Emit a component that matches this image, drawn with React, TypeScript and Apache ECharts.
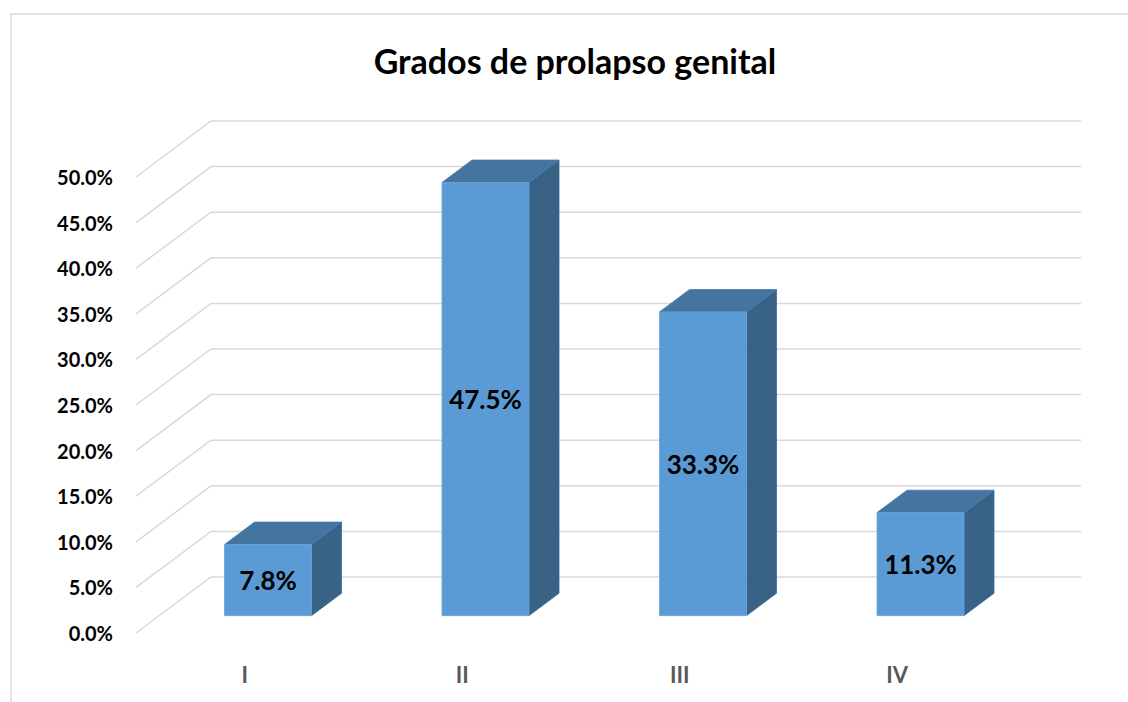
import React, { useEffect, useRef } from "react";
import * as echarts from "echarts";

const titleText = "Grados de prolapso genital";
const categories = ["I", "II", "III", "IV"];
const values = [7.8, 47.5, 33.3, 11.3];
const yTicks = [0, 5, 10, 15, 20, 25, 30, 35, 40, 45, 50];

const DX = 75;
const DY = -56;
const F0 = 0.31;
const F1 = 0.71;
const BAR_W = 0.4;
const FONT = "Lato, Carlito, 'Open Sans', sans-serif";

export default function App() {
  const ref = useRef<HTMLDivElement>(null);
  useEffect(() => {
    const chart = echarts.init(ref.current as HTMLDivElement, null, { renderer: "svg" });
    chart.setOption({
      animation: false,
      backgroundColor: "#ffffff",
      graphic: [
        {
          type: "rect",
          z: 0,
          silent: true,
          shape: { x: 11, y: 14, width: 1400, height: 1000 },
          style: { fill: "none", stroke: "#d9d9d9", lineWidth: 1.5 },
        },
        {
          type: "text",
          x: 575,
          y: 60,
          style: {
            text: titleText,
            fontFamily: FONT,
            fontSize: 34,
            fontWeight: "bold",
            fill: "#000000",
            textAlign: "center",
            textVerticalAlign: "middle",
          },
        },
      ],
      grid: { left: 136, right: 122, top: 177, bottom: 69 },
      xAxis: {
        type: "category",
        data: categories,
        axisLine: { show: false },
        axisTick: { show: false },
        axisLabel: {
          margin: 30,
          fontFamily: FONT,
          fontSize: 22,
          fontWeight: "bold",
          color: "#595959",
        },
      },
      yAxis: {
        type: "value",
        min: 0,
        max: 50,
        interval: 5,
        axisLine: { show: false },
        axisTick: { show: false },
        splitLine: { show: false },
        axisLabel: {
          margin: 23,
          fontFamily: FONT,
          fontSize: 20,
          fontWeight: "bold",
          color: "#000000",
          formatter: (v: number) => v.toFixed(1) + "%",
        },
      },
      series: [
        {
          type: "custom",
          z: 1,
          silent: true,
          data: yTicks.map((v) => [0, v]),
          encode: { x: 0, y: 1 },
          renderItem: (params: any, api: any) => {
            const v = api.value(1);
            const cs = params.coordSys;
            const y = api.coord([0, v])[1];
            const x0 = cs.x;
            const x1 = cs.x + cs.width;
            return {
              type: "polyline",
              shape: { points: [[x0, y], [x0 + DX, y + DY], [x1 + DX, y + DY]] },
              style: { stroke: "#d9d9d9", lineWidth: 1.5, fill: null },
            };
          },
        },
        {
          type: "custom",
          z: 5,
          data: values.map((v, i) => [i, v]),
          encode: { x: 0, y: 1 },
          renderItem: (params: any, api: any) => {
            const i = api.value(0);
            const v = api.value(1);
            const c0 = api.coord([i, 0]);
            const c1 = api.coord([i, v]);
            const band = api.size([1, 0])[0];
            const w = band * BAR_W;
            const xl = c0[0] - w / 2 + F0 * DX;
            const xr = xl + w;
            const yb = c0[1] + F0 * DY;
            const yt = c1[1] + F0 * DY;
            const dx = (F1 - F0) * DX;
            const dy = (F1 - F0) * DY;
            return {
              type: "group",
              children: [
                {
                  type: "polygon",
                  shape: { points: [[xr, yt], [xr + dx, yt + dy], [xr + dx, yb + dy], [xr, yb]] },
                  style: { fill: "#386387", stroke: "#3d6a90", lineWidth: 0.8 },
                },
                {
                  type: "polygon",
                  shape: { points: [[xl, yt], [xl + dx, yt + dy], [xr + dx, yt + dy], [xr, yt]] },
                  style: { fill: "#4474a0", stroke: "#4a7ba8", lineWidth: 0.8 },
                },
                {
                  type: "polygon",
                  shape: { points: [[xl, yt], [xr, yt], [xr, yb], [xl, yb]] },
                  style: { fill: "#5b9bd5", stroke: "#6aa5d9", lineWidth: 0.8 },
                },
                {
                  type: "text",
                  x: (xl + xr) / 2,
                  y: (yt + yb) / 2,
                  style: {
                    text: v.toFixed(1) + "%",
                    fontFamily: FONT,
                    fontSize: 26,
                    fontWeight: "bold",
                    fill: "#000000",
                    textAlign: "center",
                    textVerticalAlign: "middle",
                  },
                },
              ],
            };
          },
        },
      ],
    });
    return () => chart.dispose();
  }, []);
  return (
    <div
      ref={ref}
      style={{ position: "fixed", left: 0, top: 0, width: 1128, height: 702 }}
    />
  );
}
